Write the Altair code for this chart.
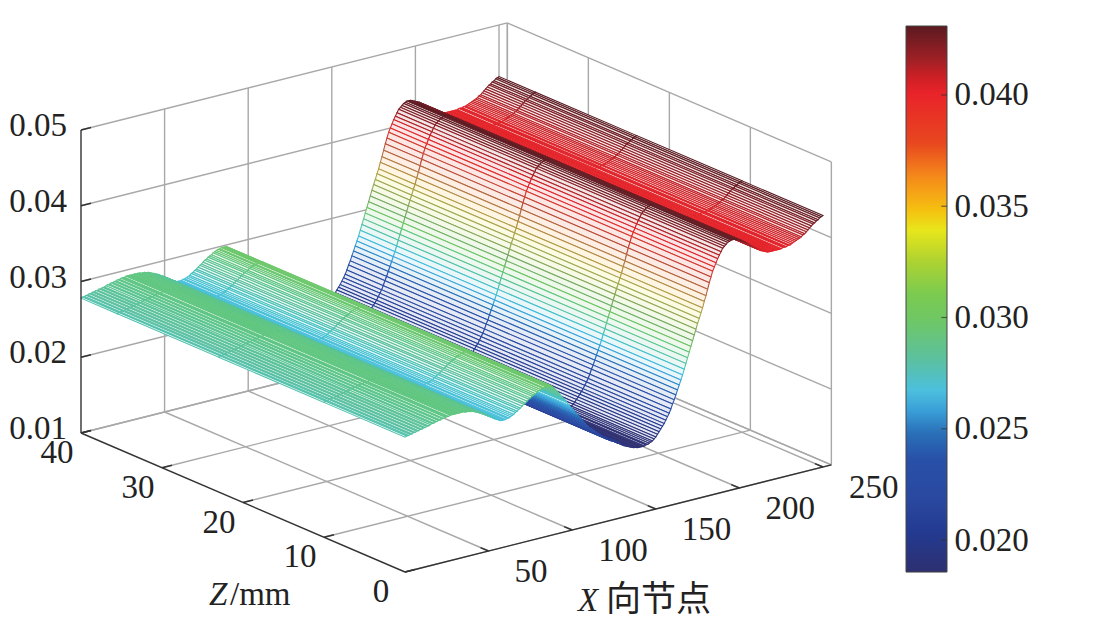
"""Mesh surface of a film thickness profile, drawn in a fixed oblique view."""

import altair as alt
import pandas as pd

alt.data_transformers.disable_max_rows()

# surface height at each X node, 0 to 250
HEIGHTS = [
    .0278, .0279, .0279, .0280, .0280, .0281, .0281, .0282, .0282, .0283,
    .0283, .0284, .0284, .0285, .0285, .0286, .0287, .0287, .0288, .0288,
    .0289, .0289, .0290, .0290, .0291, .0291, .0291, .0292, .0292, .0292,
    .0292, .0292, .0292, .0292, .0292, .0292, .0291, .0291, .0291, .0290,
    .0290, .0289, .0288, .0287, .0286, .0285, .0284, .0282, .0281, .0280,
    .0278, .0277, .0275, .0274, .0272, .0271, .0270, .0268, .0268, .0268,
    .0268, .0269, .0269, .0270, .0271, .0272, .0274, .0275, .0277, .0278,
    .0280, .0282, .0283, .0285, .0287, .0288, .0290, .0291, .0292, .0294,
    .0295, .0296, .0297, .0297, .0298, .0298, .0298, .0298, .0296, .0294,
    .0291, .0288, .0285, .0282, .0279, .0276, .0273, .0270, .0266, .0263,
    .0260, .0257, .0254, .0251, .0248, .0245, .0242, .0239, .0236, .0233,
    .0230, .0228, .0226, .0224, .0222, .0220, .0218, .0216, .0214, .0212,
    .0210, .0208, .0207, .0205, .0204, .0203, .0202, .0200, .0199, .0198,
    .0196, .0194, .0193, .0192, .0191, .0190, .0189, .0188, .0188, .0187,
    .0187, .0187, .0187, .0187, .0188, .0188, .0189, .0190, .0191, .0193,
    .0195, .0198, .0201, .0204, .0207, .0210, .0214, .0218, .0222, .0227,
    .0233, .0238, .0244, .0250, .0256, .0262, .0268, .0275, .0282, .0289,
    .0296, .0303, .0310, .0317, .0324, .0331, .0337, .0344, .0350, .0358,
    .0365, .0373, .0381, .0388, .0395, .0400, .0405, .0410, .0414, .0418,
    .0422, .0424, .0426, .0428, .0429, .0430, .0430, .0430, .0429, .0428,
    .0427, .0426, .0425, .0423, .0422, .0420, .0418, .0416, .0414, .0413,
    .0411, .0409, .0408, .0406, .0405, .0404, .0403, .0402, .0402, .0402,
    .0402, .0402, .0402, .0402, .0402, .0402, .0403, .0403, .0403, .0404,
    .0404, .0405, .0406, .0407, .0408, .0409, .0410, .0411, .0413, .0414,
    .0416, .0418, .0420, .0422, .0424, .0425, .0427, .0428, .0430, .0431,
    .0432,
]

# mesh lines across the X direction
Z_LINES = [0, 10, 23, 35.5, 40]

X_TICKS = [50, 100, 150, 200, 250]
Z_TICKS = [0, 10, 20, 30, 40]
W_TICKS = [0.01, 0.02, 0.03, 0.04, 0.05]
X_MAX = 255
COLORBAR_TICKS = [0.020, 0.025, 0.030, 0.035, 0.040]

COLOR_VALUES = [.01856, .02032, .02180, .02360, .02481, .02584, .02674, .02809, .02989,
                .03110, .03258, .03393, .03483, .03631, .03784, .04009, .04081, .04157, .04310]
COLOR_RANGE = ['#2e2f70', '#233a90', '#2a48a0', '#2850a8', '#2a70b8', '#3aa0d8', '#4cc0dd',
               '#5bc0a0', '#6fc765', '#7ccb4f', '#b0d330', '#e8e61a', '#f5c010', '#f58a1a',
               '#e8471f', '#e8232a', '#cc2025', '#a02025', '#5a1a20']
# the thin mesh lines read duller than the bar in the middle of the steep face
LINE_RANGE = ['#2e2f70', '#233a90', '#2a48a0', '#2850a8', '#2a70b8', '#3aa0d8', '#4cc0dd',
              '#5bc0a0', '#6fc765', '#70a868', '#90a858', '#a8a850', '#b09a40', '#b07a48',
              '#b84a38', '#e8232a', '#cc2025', '#a02025', '#5a1a20']

SERIF = 'Liberation Serif'
FONT_SIZE = 33
PANEL_W = 890
PANEL_H = 615


def project(x, z, w):
    """Oblique view of a data point, in picture pixels."""
    px = 405 + 1.672 * x - 8.1 * z
    py = 572 - 0.42 * x - 3.475 * z - (w - 0.01) * 7575
    return px, py


def pale(colour, keep=0.12):
    """Mixes a colour with white, for the faces between the mesh lines."""
    parts = [int(colour[k:k + 2], 16) for k in (1, 3, 5)]
    return '#' + ''.join(f'{round(255 - (255 - p) * keep):02x}' for p in parts)


def segment(a, b):
    x, y = project(*a)
    x2, y2 = project(*b)
    return {'x': x, 'y': y, 'x2': x2, 'y2': y2}


def face_rows(key, corners, value):
    """Splits a four sided mesh face into x, top, bottom rows for an area mark."""
    pts = sorted(corners)
    rows = []
    edges = list(zip(corners, corners[1:] + corners[:1]))
    for px, _ in pts:
        hits = []
        for (x0, y0), (x1, y1) in edges:
            if min(x0, x1) <= px <= max(x0, x1):
                if x0 == x1:
                    hits += [y0, y1]
                else:
                    hits.append(y0 + (y1 - y0) * (px - x0) / (x1 - x0))
        rows.append({'x': px, 'y': min(hits), 'y2': max(hits), 'face': key, 'w': value})
    return rows


def surface_table():
    rows = []
    # far faces first, so that near ones hide them
    for i in range(len(HEIGHTS) - 2, -1, -1):
        w0, w1 = HEIGHTS[i], HEIGHTS[i + 1]
        for j in range(len(Z_LINES) - 2, -1, -1):
            z0, z1 = Z_LINES[j], Z_LINES[j + 1]
            corners = [project(i, z0, w0), project(i, z1, w0),
                       project(i + 1, z1, w1), project(i + 1, z0, w1)]
            rows += face_rows(f'f{i:03d}_{j}', corners, (w0 + w1) / 2)
    return pd.DataFrame(rows)


def grid_table():
    top, bottom = W_TICKS[-1], W_TICKS[0]
    rows = []
    for x in X_TICKS + [X_MAX]:
        rows.append(segment((x, 40, bottom), (x, 40, top)))
        rows.append(segment((x, 0, bottom), (x, 40, bottom)))
    for z in Z_TICKS:
        rows.append(segment((X_MAX, z, bottom), (X_MAX, z, top)))
        rows.append(segment((0, z, bottom), (X_MAX, z, bottom)))
    for w in W_TICKS:
        rows.append(segment((0, 40, w), (X_MAX, 40, w)))
        rows.append(segment((X_MAX, 40, w), (X_MAX, 0, w)))
    return pd.DataFrame(rows)


def axis_table():
    bottom = W_TICKS[0]
    rows = [
        segment((0, 40, bottom), (0, 40, W_TICKS[-1])),
        segment((0, 40, bottom), (0, 0, bottom)),
        segment((0, 0, bottom), (X_MAX, 0, bottom)),
    ]
    for w in W_TICKS:
        rows.append(segment((0, 40, w), (6, 40, w)))
    for x in X_TICKS:
        rows.append(segment((x, 0, bottom), (x, 1, bottom)))
    for z in Z_TICKS:
        rows.append(segment((0, z, bottom), (6, z, bottom)))
    return pd.DataFrame(rows)


x_scale = alt.Scale(domain=[8, 8 + PANEL_W], nice=False, zero=False)
y_scale = alt.Scale(domain=[8 + PANEL_H, 8], nice=False, zero=False)
enc_x = alt.X('x:Q', scale=x_scale, axis=None)
enc_y = alt.Y('y:Q', scale=y_scale, axis=None)


def text_layer(rows, align='left', font=SERIF, style='normal', size=FONT_SIZE):
    return alt.Chart(pd.DataFrame(rows)).mark_text(
        font=font, fontSize=size, fontStyle=style, color='#222222', align=align, baseline='middle'
    ).encode(x=enc_x, y=enc_y, text='text:N')


def w_labels():
    rows = []
    for w in W_TICKS:
        px, py = project(0, 40, w)
        rows.append({'x': px - 14, 'y': py - 4, 'text': f'{w:.2f}'})
    return rows


def z_labels():
    rows = []
    for z in Z_TICKS:
        px, py = project(0, z, W_TICKS[0])
        rows.append({'x': px - 24, 'y': py + 20, 'text': str(z)})
    return rows


def x_labels():
    rows = []
    for x in X_TICKS:
        px, py = project(x, 0, W_TICKS[0])
        rows.append({'x': px + 26, 'y': py + 21, 'text': str(x)})
    return rows


grid = alt.Chart(grid_table()).mark_rule(color='#a8a8a8', strokeWidth=1.4).encode(
    x=enc_x, y=enc_y, x2='x2:Q', y2='y2:Q')

axes = alt.Chart(axis_table()).mark_rule(color='#333333', strokeWidth=1.4).encode(
    x=enc_x, y=enc_y, x2='x2:Q', y2='y2:Q')

surface = alt.Chart(surface_table()).mark_area(strokeWidth=1.05).encode(
    x=enc_x,
    y=enc_y,
    y2='y2:Q',
    detail='face:N',
    stroke=alt.Stroke('w:Q', legend=None,
                      scale=alt.Scale(domain=COLOR_VALUES, range=LINE_RANGE)),
    fill=alt.Fill('w:Q', legend=None,
                  scale=alt.Scale(domain=COLOR_VALUES, range=[pale(c) for c in COLOR_RANGE])),
)

left = alt.layer(
    grid, surface, axes,
    text_layer(w_labels(), align='right'),
    text_layer(z_labels(), align='center'),
    text_layer(x_labels()),
    text_layer([{'x': 209, 'y': 595, 'text': 'Z'}], style='italic'),
    text_layer([{'x': 230, 'y': 595, 'text': '/mm'}]),
    text_layer([{'x': 578, 'y': 601, 'text': 'X'}], style='italic'),
    text_layer([{'x': 606, 'y': 600, 'text': '向节点'}], font='Noto Sans CJK SC', size=35),
).properties(width=PANEL_W, height=PANEL_H)

# colour bar: one rectangle with the scale as its gradient
bar_low, bar_high = COLOR_VALUES[0], COLOR_VALUES[-1]
stops = [alt.GradientStop(offset=(v - bar_low) / (bar_high - bar_low), color=c)
         for v, c in zip(COLOR_VALUES, COLOR_RANGE)]
bar_y_scale = alt.Scale(domain=[0.01627, 0.04391], nice=False, zero=False)
bar_x_scale = alt.Scale(domain=[0, 1], nice=False, zero=False)
bar_axis = alt.Axis(orient='right', values=COLORBAR_TICKS, format='.3f', tickSize=0, domain=False,
                    grid=False, title=None, labelFont=SERIF, labelFontSize=FONT_SIZE,
                    labelColor='#222222', labelPadding=7)

bar = alt.Chart(pd.DataFrame([{'x': 0, 'x2': 1, 'low': bar_low, 'high': bar_high}])).mark_rect(
    color=alt.LinearGradient(gradient='linear', stops=stops, x1=0, x2=0, y1=1, y2=0),
    stroke='#444444', strokeWidth=1,
).encode(
    x=alt.X('x:Q', scale=bar_x_scale, axis=None),
    x2='x2:Q',
    y=alt.Y('low:Q', scale=bar_y_scale, axis=bar_axis),
    y2='high:Q',
)

bar_ticks = alt.Chart(pd.DataFrame({'value': COLORBAR_TICKS, 'x': [0.86] * 5, 'x2': [1] * 5})).mark_rule(
    color='#333333', opacity=0.7, strokeWidth=1.2
).encode(
    x=alt.X('x:Q', scale=bar_x_scale, axis=None),
    x2='x2:Q',
    y=alt.Y('value:Q', scale=bar_y_scale, axis=bar_axis),
)

right = alt.layer(bar, bar_ticks).properties(width=41, height=PANEL_H)

chart = alt.hconcat(left, right, spacing=6).properties(
    padding=0, background='white'
).configure_view(stroke=None)

chart.save("out.html", embed_options={"renderer": "svg", "actions": False})
